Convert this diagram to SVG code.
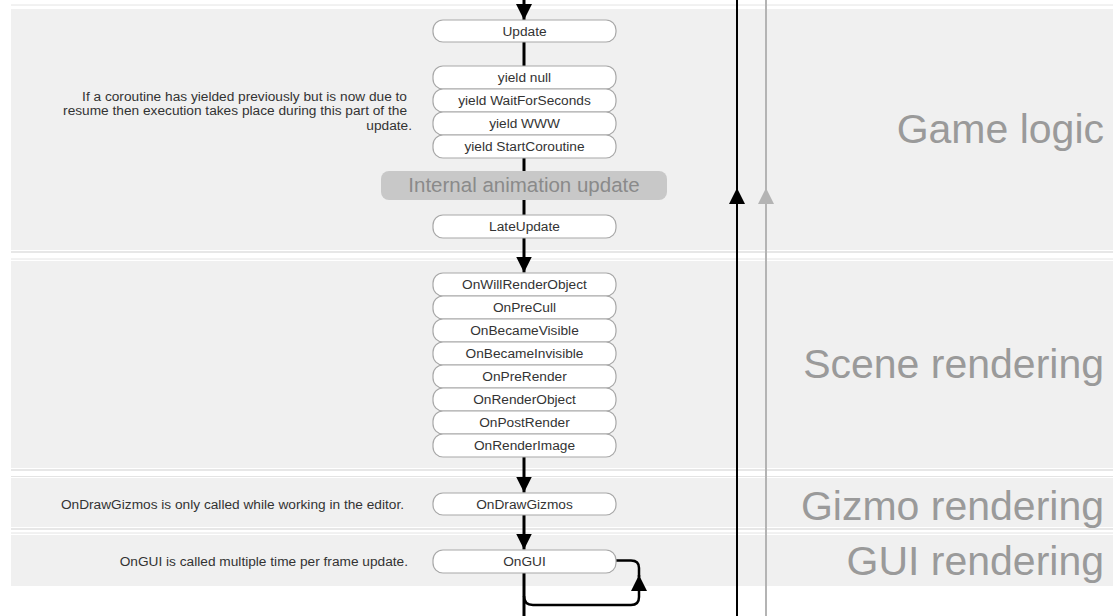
<svg xmlns="http://www.w3.org/2000/svg" width="1113" height="616" viewBox="0 0 1113 616">
<style>
.band{fill:#f0f0f0}
.sepd{stroke:#cfcfcf;stroke-width:1.2}
.sepl{stroke:#e4e4e4;stroke-width:1}
.node rect{fill:#fff;stroke:#a8a8a8;stroke-width:1.2}
.node text{font-family:"Liberation Sans",Arial,sans-serif;font-size:13.7px;fill:#333;text-anchor:middle}
.note{font-family:"Liberation Sans",Arial,sans-serif;font-size:13.7px;fill:#333;text-anchor:end}
.lane{font-family:"Liberation Sans",Arial,sans-serif;font-size:41px;fill:#9a9a9a;text-anchor:end}
.flow{fill:none;stroke:#000;stroke-width:3}
.loop{fill:none;stroke:#000;stroke-width:2.5}
</style>
<defs>
<marker id="arr" viewBox="0 0 16 16" refX="16" refY="8" markerWidth="16" markerHeight="16" markerUnits="userSpaceOnUse" orient="auto">
<path d="M0,0 L16,8 L0,16 z" fill="#000"/>
</marker>
<marker id="arrg" viewBox="0 0 16 16" refX="16" refY="8" markerWidth="16" markerHeight="16" markerUnits="userSpaceOnUse" orient="auto">
<path d="M0,0 L16,8 L0,16 z" fill="#b4b4b4"/>
</marker>
</defs>

<g id="bands">
<line class="sepl" x1="11" y1="5" x2="1113" y2="5"/>
<rect class="band" x="11" y="9" width="1110" height="241"/>
<line class="sepd" x1="11" y1="252" x2="1113" y2="252"/>
<line class="sepl" x1="11" y1="259" x2="1113" y2="259"/>
<rect class="band" x="11" y="261" width="1110" height="207"/>
<line class="sepd" x1="11" y1="470" x2="1113" y2="470"/>
<line class="sepl" x1="11" y1="476.5" x2="1113" y2="476.5"/>
<rect class="band" x="11" y="478" width="1110" height="49"/>
<line class="sepd" x1="11" y1="529" x2="1113" y2="529"/>
<line class="sepl" x1="11" y1="533" x2="1113" y2="533"/>
<rect class="band" x="11" y="535" width="1110" height="51"/>
</g>

<g id="lane-labels">
<text class="lane" x="1104" y="143">Game logic</text>
<text class="lane" x="1104" y="378">Scene rendering</text>
<text class="lane" x="1104" y="520">Gizmo rendering</text>
<text class="lane" x="1104" y="575">GUI rendering</text>
</g>

<g id="notes">
<text class="note" x="407" y="100.5">If a coroutine has yielded previously but is now due to</text>
<text class="note" x="407" y="115">resume then execution takes place during this part of the</text>
<text class="note" x="412" y="129.5">update.</text>
<text class="note" x="404" y="509">OnDrawGizmos is only called while working in the editor.</text>
<text class="note" x="408" y="566">OnGUI is called multiple time per frame update.</text>
</g>

<g id="connectors">
<line class="flow" x1="524" y1="0" x2="524" y2="20" marker-end="url(#arr)"/>
<line class="flow" x1="524" y1="42" x2="524" y2="66"/>
<line class="flow" x1="524" y1="158" x2="524" y2="171"/>
<line class="flow" x1="524" y1="200" x2="524" y2="215"/>
<line class="flow" x1="524" y1="238" x2="524" y2="272.5" marker-end="url(#arr)"/>
<line class="flow" x1="524" y1="457" x2="524" y2="492.5" marker-end="url(#arr)"/>
<line class="flow" x1="524" y1="515" x2="524" y2="549.5" marker-end="url(#arr)"/>
<line class="flow" x1="524" y1="573" x2="524" y2="616"/>
<path class="loop" d="M524,596 Q524,605 533,605 L631,605 Q639,605 639,597 L639,575" marker-end="url(#arr)"/>
<path class="loop" d="M639,577 L639,568 Q639,560.5 631,560.5 L616,560.5"/>
<line x1="737" y1="616" x2="737" y2="188" stroke="#000" stroke-width="2" marker-end="url(#arr)"/>
<line x1="737" y1="190" x2="737" y2="0" stroke="#000" stroke-width="2"/>
<line x1="766" y1="616" x2="766" y2="188" stroke="#b4b4b4" stroke-width="2" marker-end="url(#arrg)"/>
<line x1="766" y1="190" x2="766" y2="0" stroke="#b4b4b4" stroke-width="2"/>
</g>

<g id="node-update" class="node"><rect x="433" y="20" width="183" height="22" rx="10"/><text x="524.5" y="35.5">Update</text></g>
<g id="node-yield-null" class="node"><rect x="433" y="66" width="183" height="23" rx="10"/><text x="524.5" y="82">yield null</text></g>
<g id="node-yield-waitforseconds" class="node"><rect x="433" y="89" width="183" height="23" rx="10"/><text x="524.5" y="105">yield WaitForSeconds</text></g>
<g id="node-yield-www" class="node"><rect x="433" y="112" width="183" height="23" rx="10"/><text x="524.5" y="128">yield WWW</text></g>
<g id="node-yield-startcoroutine" class="node"><rect x="433" y="135" width="183" height="23" rx="10"/><text x="524.5" y="151">yield StartCoroutine</text></g>
<g id="node-internal-animation"><rect x="381" y="171" width="286" height="29" rx="8" fill="#c8c8c8"/><text x="524" y="192" font-family="Liberation Sans,Arial,sans-serif" font-size="20.5" fill="#8a8a8a" text-anchor="middle">Internal animation update</text></g>
<g id="node-lateupdate" class="node"><rect x="433" y="215" width="183" height="23" rx="10"/><text x="524.5" y="231">LateUpdate</text></g>

<g id="node-onwillrenderobject" class="node"><rect x="433" y="273" width="183" height="23" rx="10"/><text x="524.5" y="289">OnWillRenderObject</text></g>
<g id="node-onprecull" class="node"><rect x="433" y="296" width="183" height="23" rx="10"/><text x="524.5" y="312">OnPreCull</text></g>
<g id="node-onbecamevisible" class="node"><rect x="433" y="319" width="183" height="23" rx="10"/><text x="524.5" y="335">OnBecameVisible</text></g>
<g id="node-onbecameinvisible" class="node"><rect x="433" y="342" width="183" height="23" rx="10"/><text x="524.5" y="358">OnBecameInvisible</text></g>
<g id="node-onprerender" class="node"><rect x="433" y="365" width="183" height="23" rx="10"/><text x="524.5" y="381">OnPreRender</text></g>
<g id="node-onrenderobject" class="node"><rect x="433" y="388" width="183" height="23" rx="10"/><text x="524.5" y="404">OnRenderObject</text></g>
<g id="node-onpostrender" class="node"><rect x="433" y="411" width="183" height="23" rx="10"/><text x="524.5" y="427">OnPostRender</text></g>
<g id="node-onrenderimage" class="node"><rect x="433" y="434" width="183" height="23" rx="10"/><text x="524.5" y="450">OnRenderImage</text></g>

<g id="node-ondrawgizmos" class="node"><rect x="433" y="493" width="183" height="22" rx="10"/><text x="524.5" y="509">OnDrawGizmos</text></g>
<g id="node-ongui" class="node"><rect x="433" y="550" width="183" height="23" rx="10"/><text x="524.5" y="566">OnGUI</text></g>
</svg>
